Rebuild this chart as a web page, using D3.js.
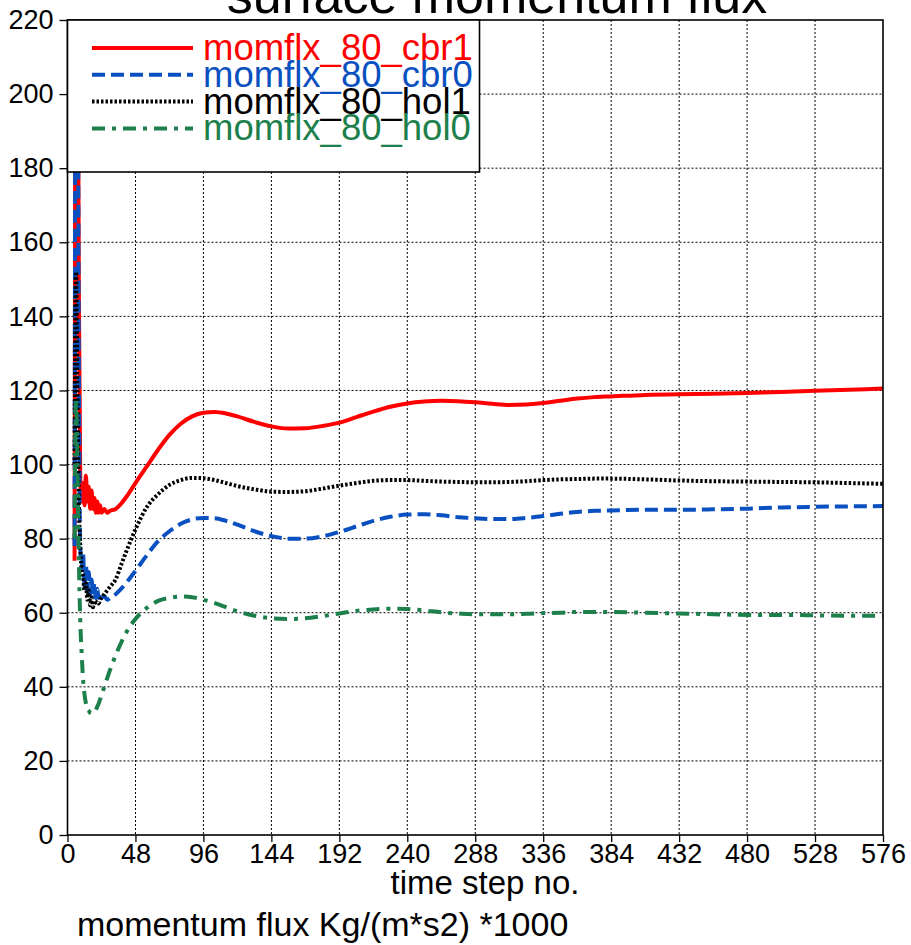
<!DOCTYPE html>
<html>
<head>
<meta charset="utf-8">
<script src="https://cdn.jsdelivr.net/npm/d3@7"></script>
<style>
  body { margin: 0; background: #fff; }
  text { font-family: "Liberation Sans", Arial, sans-serif; }
</style>
</head>
<body>
<script>
// time steps shared by all series
var steps = [5,6,7,8,9,10,11,12,13,14,15,16,17,18,19,20,21,22,23,24,26,28,30,34,38,42,48,56,64,72,80,88,96,104,112,120,132,144,156,168,180,192,204,216,228,240,252,264,276,288,300,312,324,336,348,360,372,384,408,432,456,480,504,528,552,576];

var cbr1 = [74,250,240,150,96,90,95,89,97,90,94,88,93,88,91,87,90,87,89,87,88,87,87.5,88,89.5,91.5,95,99.5,104,108,111,113,114,114.2,113.8,113,111.5,110.3,109.7,109.8,110.4,111.3,112.8,114.3,115.6,116.5,117,117.2,117.1,116.8,116.4,116.1,116.2,116.6,117.2,117.8,118.2,118.4,118.8,119,119.1,119.3,119.6,119.9,120.2,120.5];
var cbr0 = [78,260,240,130,78,72,76,67,73,66,71,65,69,64.5,68,64,66.5,64,65.5,64,64.5,63.5,64,65,66.5,68.3,71.3,75.5,79.3,82,84,85.2,85.6,85.5,84.8,83.8,82,80.7,80,80,80.6,81.8,83.3,84.8,85.9,86.5,86.6,86.3,85.8,85.5,85.3,85.3,85.6,86.1,86.7,87.2,87.5,87.6,87.8,87.8,87.9,88.1,88.4,88.6,88.7,88.8];
var hol1 = [100,152,120,90,78,72,70,66,68,63.5,66,62,64,61.5,62.5,62,63,62.5,63.5,64,65,66,67,69,73,77,82.5,88.5,92,94.5,95.8,96.4,96.3,95.8,95,94.2,93.3,92.7,92.6,92.8,93.5,94.3,95,95.6,95.8,95.8,95.6,95.4,95.3,95.2,95.2,95.3,95.5,95.8,96,96.1,96.2,96.2,96,95.7,95.5,95.4,95.3,95.2,95,94.8];
var hol0 = [80,118,100,75,58,49,42,38,35.5,34,33.5,33,32.8,32.8,33.2,33.8,34.6,35.5,36.6,37.7,40,42.3,44.5,48.5,52,55,58.3,61.3,63.2,64,64.4,64.2,63.5,62.6,61.5,60.4,59.2,58.5,58.3,58.5,59.1,59.8,60.5,60.9,61.1,61,60.6,60.1,59.8,59.6,59.6,59.6,59.7,59.9,60,60.2,60.2,60.2,60,59.8,59.6,59.4,59.4,59.3,59.2,59.2];

var seriesNames = ["momflx_80_cbr1","momflx_80_cbr0","momflx_80_hol1","momflx_80_hol0"];
var seriesColors = ["#ff0000","#0a50c0","#000000","#1c7f4c"];
var seriesDash = ["none","13,6","2.5,2","13,7,4,7"];

var xTicks = [0,48,96,144,192,240,288,336,384,432,480,528,576];
var yTicks = [0,20,40,60,80,100,120,140,160,180,200,220];

window.onload = drawChart();

function drawChart(){

    var width = 911, height = 945;
    var pLeft = 67.5, pRight = 883, pTop = 20, pBottom = 835;

    var svg = d3.select("body").append("svg")
        .attr("width", width)
        .attr("height", height);

    var x = d3.scaleLinear().domain([0,576]).range([pLeft,pRight]);
    var y = d3.scaleLinear().domain([0,220]).range([pBottom,pTop]);

    svg.append("defs").append("clipPath").attr("id","plotclip")
      .append("rect")
        .attr("x", pLeft).attr("y", pTop)
        .attr("width", pRight-pLeft).attr("height", pBottom-pTop);

    //title, mostly cut off by the top of the page
    svg.append("text")
        .attr("x", 497).attr("y", 13)
        .attr("text-anchor","middle")
        .attr("font-size", 52)
        .text("surface momentum flux");

    //dotted grid
    svg.append("g").selectAll("line")
      .data(xTicks.slice(1,-1)).enter().append("line")
        .attr("x1", function(d){ return x(d); }).attr("x2", function(d){ return x(d); })
        .attr("y1", pTop).attr("y2", pBottom)
        .attr("stroke","#000").attr("stroke-width",1).attr("stroke-dasharray","2,2");
    svg.append("g").selectAll("line")
      .data(yTicks.slice(1,-1)).enter().append("line")
        .attr("y1", function(d){ return y(d); }).attr("y2", function(d){ return y(d); })
        .attr("x1", pLeft).attr("x2", pRight)
        .attr("stroke","#000").attr("stroke-width",1).attr("stroke-dasharray","2,2");

    //axes
    var xAxis = svg.append("g")
        .attr("transform","translate(0," + pBottom + ")")
        .call(d3.axisBottom(x).tickValues(xTicks).tickSize(7).tickPadding(2).tickSizeOuter(0));
    var yAxis = svg.append("g")
        .attr("transform","translate(" + pLeft + ",0)")
        .call(d3.axisLeft(y).tickValues(yTicks).tickSize(8).tickPadding(6).tickSizeOuter(0));
    [xAxis, yAxis].forEach(function(g){
        g.select(".domain").remove();
        g.selectAll("line").attr("stroke","#000").attr("stroke-width",1.3);
        g.selectAll("text").attr("font-size",27).attr("fill","#000")
            .attr("font-family","'Liberation Sans', Arial, sans-serif");
    });

    //series lines, drawn in legend order (red first, green on top)
    var line = d3.line()
        .x(function(d){ return x(d[0]); })
        .y(function(d){ return y(d[1]); })
        .curve(d3.curveMonotoneX);

    var allVals = [cbr1, cbr0, hol1, hol0];
    var lines = svg.append("g").attr("clip-path","url(#plotclip)");
    allVals.forEach(function(vals, i){
        var pts = steps.map(function(s, j){ return [s, vals[j]]; });
        lines.append("path")
            .datum(pts)
            .attr("fill","none")
            .attr("stroke", seriesColors[i])
            .attr("stroke-width", 4)
            .attr("stroke-dasharray", seriesDash[i])
            .attr("d", line);
    });

    //frame
    svg.append("rect")
        .attr("x", pLeft).attr("y", pTop)
        .attr("width", pRight-pLeft).attr("height", pBottom-pTop)
        .attr("fill","none").attr("stroke","#000").attr("stroke-width",1.6);

    //legend
    var legend = svg.append("g");
    legend.append("rect")
        .attr("x", pLeft).attr("y", pTop)
        .attr("width", 412).attr("height", 152)
        .attr("fill","#fff").attr("stroke","#000").attr("stroke-width",1.6);
    seriesNames.forEach(function(name, i){
        var ly = 48 + i*26.8;
        legend.append("line")
            .attr("x1", 92).attr("x2", 193)
            .attr("y1", ly).attr("y2", ly)
            .attr("stroke", seriesColors[i])
            .attr("stroke-width", 4)
            .attr("stroke-dasharray", seriesDash[i]);
        legend.append("text")
            .attr("x", 203).attr("y", ly + 12)
            .attr("font-size", 36.5)
            .attr("fill", seriesColors[i])
            .text(name);
    });

    //axis titles
    svg.append("text")
        .attr("x", 485).attr("y", 894)
        .attr("text-anchor","middle")
        .attr("font-size", 33)
        .text("time step no.");
    svg.append("text")
        .attr("x", 77).attr("y", 936)
        .attr("font-size", 34)
        .text("momentum flux Kg/(m*s2) *1000");
};
</script>
</body>
</html>
